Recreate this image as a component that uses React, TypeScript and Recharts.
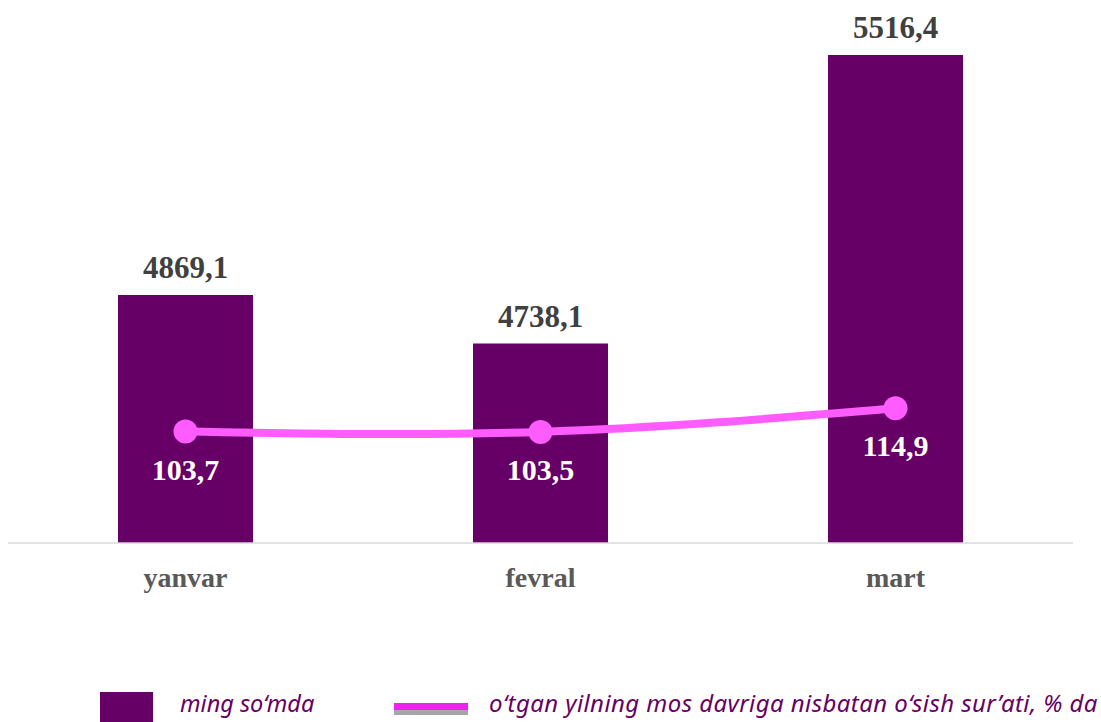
import React from "react";
import { ComposedChart, Bar, Line, XAxis, YAxis, LabelList } from "recharts";

const categories = ["yanvar", "fevral", "mart"];
const amounts = [4869.1, 4738.1, 5516.4];
const growth = [103.7, 103.5, 114.9];
const legendBar = "ming so‘mda";
const legendLine = "o‘tgan yilning mos davriga nisbatan o‘sish sur’ati, % da";

const data = categories.map((c, i) => ({ name: c, amount: amounts[i], growth: growth[i] }));

const fmt = (v: number) => v.toFixed(1).replace(".", ",");

const serif = "'Liberation Serif', 'Times New Roman', serif";

const LineLabel = (props: any) => {
  const { x, y, value } = props;
  return (
    <text x={x} y={y + 48} textAnchor="middle" fill="#FFFFFF" fontFamily={serif} fontWeight="bold" fontSize={30}>
      {fmt(value)}
    </text>
  );
};

const BarLabel = (props: any) => {
  const { x, y, width, value } = props;
  return (
    <text x={x + width / 2} y={y - 17} textAnchor="middle" fill="#404040" fontFamily={serif} fontWeight="bold" fontSize={31}>
      {fmt(value)}
    </text>
  );
};

const Tick = (props: any) => {
  const { x, payload } = props;
  return (
    <text x={x} y={587} textAnchor="middle" fill="#595959" fontFamily={serif} fontWeight="bold" fontSize={28}>
      {payload.value}
    </text>
  );
};

const legendText: React.CSSProperties = {
  position: "absolute",
  top: 688,
  fontFamily: "'Noto Sans', sans-serif",
  fontStyle: "italic",
  fontSize: 24,
  color: "#660066",
  whiteSpace: "nowrap",
  lineHeight: "30px",
};

export default function App() {
  return (
    <div style={{ position: "absolute", left: 0, top: 0, width: 1101, height: 722, background: "#fff", overflow: "hidden" }}>
      <ComposedChart width={1101} height={610} data={data} margin={{ top: 24, right: 28, bottom: 0, left: 8 }}>
        <XAxis
          dataKey="name"
          height={67}
          axisLine={{ stroke: "#D9D9D9", strokeWidth: 1.5 }}
          tickLine={false}
          tick={<Tick />}
          interval={0}
        />
        <YAxis yAxisId="left" hide domain={[4200, 5600]} />
        <YAxis yAxisId="right" orientation="right" hide domain={[50, 300]} />
        <Bar yAxisId="left" dataKey="amount" fill="#660066" barSize={135} isAnimationActive={false}>
          <LabelList dataKey="amount" content={<BarLabel />} />
        </Bar>
        <Line
          yAxisId="right"
          type="natural"
          dataKey="growth"
          stroke="#FF5CFF"
          strokeWidth={8}
          dot={{ r: 12, fill: "#FF5CFF", stroke: "none" }}
          activeDot={false}
          isAnimationActive={false}
        >
          <LabelList dataKey="growth" content={<LineLabel />} />
        </Line>
      </ComposedChart>
      <div style={{ position: "absolute", left: 100, top: 692, width: 53, height: 40, background: "#660066" }} />
      <div style={{ ...legendText, left: 180, fontSize: 23.5 }}>{legendBar}</div>
      <div style={{ position: "absolute", left: 394, top: 703, width: 74, height: 7, background: "#EE22EE" }} />
      <div style={{ position: "absolute", left: 394, top: 710, width: 74, height: 5, background: "#A6A6A6" }} />
      <div style={{ ...legendText, left: 489, letterSpacing: 0.42 }}>{legendLine}</div>
    </div>
  );
}
